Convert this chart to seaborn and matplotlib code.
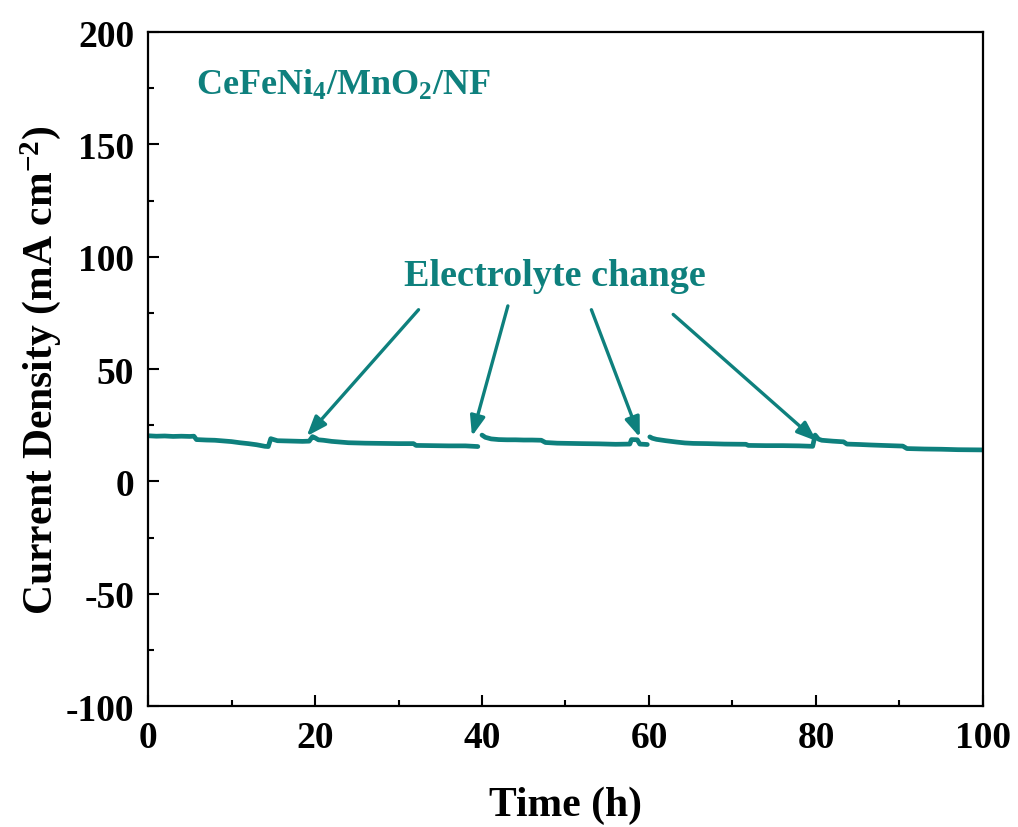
import numpy as np
import pandas as pd
import matplotlib
matplotlib.use("Agg")
import matplotlib.pyplot as plt
from matplotlib.ticker import MultipleLocator
import seaborn as sns

# Chronoamperometry trace, split into the runs between electrolyte refreshes
seg1_t = [0, 1, 2, 3, 4, 5, 5.5, 5.8, 7, 8, 9, 10, 11, 12, 13, 14.0, 14.4, 14.7, 15.5, 16.5, 17.5, 18.5, 19.3,
          19.7, 20.0, 20.4, 21, 22, 23, 24, 26, 28, 30, 31.8, 32.1, 34, 36, 38, 39.5]
seg1_j = [20.3, 20.1, 20.2, 20.0, 20.1, 20.0, 20.1, 18.6, 18.4, 18.3, 18.0, 17.7, 17.2, 16.8, 16.3, 15.6, 15.5, 19.0,
          18.1, 18.0, 17.9, 17.8, 17.9, 19.9, 19.4, 18.5, 18.3, 17.8, 17.5, 17.2, 17.0, 16.9, 16.8, 16.8, 16.0,
          15.9, 15.8, 15.8, 15.5]

seg2_t = [40.0, 40.4, 41.1, 42, 43, 44, 45, 46, 47.1, 47.6, 49, 50.5, 52, 54, 56, 57.7, 57.9, 58.6, 58.9, 59.4, 59.8]
seg2_j = [20.6, 19.6, 18.9, 18.6, 18.5, 18.5, 18.4, 18.4, 18.3, 17.3, 17.0, 16.9, 16.8, 16.7, 16.5, 16.6, 18.6,
          18.5, 16.6, 16.5, 16.4]

seg3_t = [60.1, 60.4, 60.9, 62, 63.3, 64.3, 65.3, 67, 69, 71.6, 71.9, 74, 76, 78, 79.6, 79.9, 80.3, 80.7, 82,
          83.3, 83.7, 85.3, 86.5, 88, 90.4, 90.9, 93, 95, 97, 100]
seg3_j = [19.8, 19.2, 18.7, 18.1, 17.5, 17.1, 16.9, 16.8, 16.6, 16.5, 16.0, 15.9, 15.9, 15.8, 15.6, 20.6, 18.8,
          18.3, 17.9, 17.6, 16.6, 16.4, 16.2, 16.0, 15.7, 14.6, 14.4, 14.3, 14.1, 14.0]

# Arrow tails (near the caption) and heads (at each refresh)
arrow_tail_t = [32.4, 43.1, 53.1, 62.9]
arrow_tail_j = [76.4, 78.1, 76.4, 74.3]
arrow_head_t = [19.0, 38.8, 58.9, 80.1]
arrow_head_j = [20.1, 20.1, 19.6, 17.9]

x_ticks = [0, 20, 40, 60, 80, 100]
y_ticks = [-100, -50, 0, 50, 100, 150, 200]

teal = "#0E807D"

sns.set_style("ticks")
plt.rcParams["font.family"] = ["Liberation Serif", "DejaVu Serif"]
plt.rcParams["font.weight"] = "bold"
plt.rcParams["axes.unicode_minus"] = False
plt.rcParams["mathtext.fontset"] = "custom"
plt.rcParams["mathtext.rm"] = "Liberation Serif:bold"
plt.rcParams["mathtext.it"] = "Liberation Serif:bold:italic"
plt.rcParams["mathtext.bf"] = "Liberation Serif:bold"

df = pd.concat([
    pd.DataFrame({"t": seg1_t, "j": seg1_j, "run": 1}),
    pd.DataFrame({"t": seg2_t, "j": seg2_j, "run": 2}),
    pd.DataFrame({"t": seg3_t, "j": seg3_j, "run": 3}),
], ignore_index=True)

fig = plt.figure(figsize=(10.18, 8.28), dpi=100)
ax = fig.add_axes([0.1454, 0.1461, 0.8202, 0.8140])

sns.lineplot(data=df, x="t", y="j", units="run", estimator=None, color=teal,
             linewidth=3.4, ax=ax, legend=False)

ax.set_xlim(0, 100)
ax.set_ylim(-100, 200)
ax.set_xticks(x_ticks)
ax.set_yticks(y_ticks)
ax.xaxis.set_minor_locator(MultipleLocator(10))
ax.yaxis.set_minor_locator(MultipleLocator(25))
ax.tick_params(which="both", direction="in", width=1.5, colors="black",
               labelcolor="black", top=False, right=False)
ax.tick_params(which="major", length=8, labelsize=27, pad=10)
ax.tick_params(which="minor", length=4)
for lab in ax.get_xticklabels() + ax.get_yticklabels():
    lab.set_fontweight("bold")
for sp in ax.spines.values():
    sp.set_visible(True)
    sp.set_linewidth(1.6)
    sp.set_color("black")

ax.set_xlabel("Time (h)", fontsize=30, fontweight="bold", color="black", labelpad=22)
ax.set_ylabel(r"Current Density (mA cm$^{-2}$)", fontsize=30, fontweight="bold",
              color="black", labelpad=2)

ax.text(5.8, 176.5, r"CeFeNi$_4$/MnO$_2$/NF", color=teal, fontsize=26,
        fontweight="bold", ha="left", va="center")
ax.text(48.7, 91.5, "Electrolyte change", color=teal, fontsize=27.5,
        fontweight="bold", ha="center", va="center")

for xt, yt, xh, yh in zip(arrow_tail_t, arrow_tail_j, arrow_head_t, arrow_head_j):
    ax.annotate("", xy=(xh, yh), xytext=(xt, yt),
                arrowprops=dict(arrowstyle="-|>,head_length=1.2,head_width=0.45",
                                color=teal, lw=2.4, shrinkA=0, shrinkB=0))

fig.savefig("out.png", dpi=100)
